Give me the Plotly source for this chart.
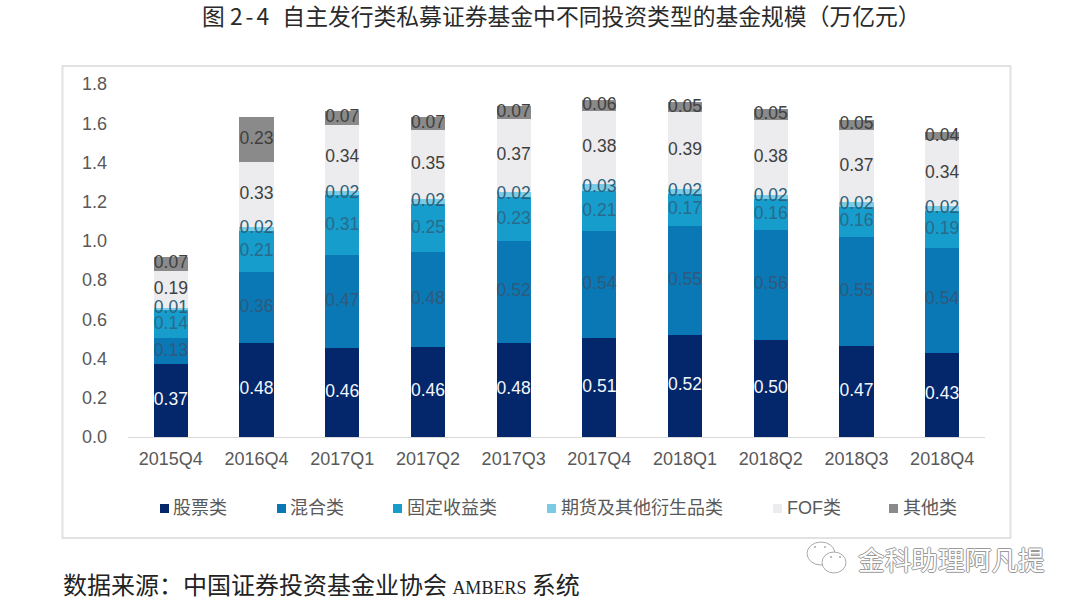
import plotly.graph_objects as go

categories = ["2015Q4","2016Q4","2017Q1","2017Q2","2017Q3","2017Q4","2018Q1","2018Q2","2018Q3","2018Q4"]
stock = [0.370,0.481,0.456,0.460,0.481,0.506,0.520,0.496,0.466,0.430]
mixed = [0.133,0.362,0.470,0.482,0.516,0.542,0.554,0.560,0.552,0.536]
fixed = [0.144,0.208,0.306,0.246,0.226,0.206,0.166,0.156,0.156,0.186]
deriv = [0.012,0.018,0.021,0.024,0.024,0.034,0.024,0.024,0.024,0.024]
fof = [0.187,0.334,0.340,0.354,0.374,0.376,0.391,0.380,0.366,0.336]
other = [0.074,0.229,0.068,0.068,0.069,0.056,0.054,0.054,0.054,0.044]
names = ["股票类","混合类","固定收益类","期货及其他衍生品类","FOF类","其他类"]
colors = ["#03276A","#0A78B5","#169DCB","#7CCBE4","#ECECEE","#8A8A8A"]
label_colors = ["#F4F6FA","#2F5A7C","#2B6A8C","#2E5F7A","#404040","#404040"]
series = [stock,mixed,fixed,deriv,fof,other]

SANS = "Liberation Sans, Noto Sans CJK SC, sans-serif"
CJK = "Noto Sans CJK SC, Liberation Sans, sans-serif"
W, H = 1080, 607
L, R, T, B = 128, 985, 84, 437

fig = go.Figure()
for name, vals, c in zip(names, series, colors):
    fig.add_bar(x=categories, y=vals, name=name, marker=dict(color=c, line_width=0), showlegend=False)
base = [0.0] * len(categories)
for name, vals, lc in zip(names, series, label_colors):
    mids = [b + v / 2 for b, v in zip(base, vals)]
    base = [b + v for b, v in zip(base, vals)]
    fig.add_scatter(x=categories, y=mids, mode="text", text=[f"{v:.2f}" for v in vals],
                    textposition="middle center", cliponaxis=False, showlegend=False,
                    textfont=dict(family=SANS, size=17.5, color=lc))

def px(x): return (x - L) / (R - L)
def py(y): return (B - y) / (B - T)

def rect(kind, x0, y0, x1, y1, **kw):
    return dict(type=kind, xref="paper", yref="paper", x0=px(x0), x1=px(x1), y0=py(y1), y1=py(y0), **kw)

def label(text, x, y, anchor, font):
    return dict(text=text, xref="paper", yref="paper", x=px(x), y=py(y), xanchor=anchor, yanchor="middle",
                showarrow=False, font=font)

shapes = [rect("rect", 62.5, 66, 1010.5, 538, line=dict(color="#E2E2E2", width=2), fillcolor="rgba(0,0,0,0)", layer="below")]
annotations = []
legend_key_x = [160, 277, 393, 547, 773, 889]
legend_text_x = [171, 288, 405, 559, 785, 901]
for kx, tx, name, c in zip(legend_key_x, legend_text_x, names, colors):
    shapes.append(rect("rect", kx, 504, kx + 9, 513, fillcolor=c, line_width=0))
    annotations.append(label(name, tx, 507.5, "left", dict(family=SANS, size=18, color="#595959")))
annotations.append(label("图 <span style='letter-spacing:3px'>2-4</span>  自主发行类私募证券基金中不同投资类型的基金规模（万亿元）",
                         200, 15, "left", dict(family=CJK, size=22.8, color="#2A2A2A")))
annotations.append(label("数据来源：中国证券投资基金业协会 <span style='font-family:Liberation Serif;font-size:18px'>AMBERS</span> 系统",
                         61, 583, "left", dict(family=CJK, size=24, color="#222222")))
annotations.append(label("金科助理阿凡提", 856, 558, "left",
                         dict(family=CJK, size=26.7, color="#FFFFFF",
                              shadow="1px 0 0 #999, -1px 0 0 #999, 0 1px 0 #999, 0 -1px 0 #999")))
bubble = dict(line=dict(color="#AAAAAA", width=1), fillcolor="#FFFFFF")
shapes.append(rect("circle", 807, 542, 835, 565, **bubble))
shapes.append(rect("circle", 822, 552, 846, 573, **bubble))
for ex, ey in [(815, 547), (825, 547), (831, 557), (840, 557)]:
    shapes.append(rect("circle", ex - 1, ey - 1, ex + 1, ey + 1, fillcolor="#AAAAAA", line_width=0))

fig.update_layout(
    width=W, height=H, barmode="stack", bargap=0.6, paper_bgcolor="#FFFFFF", plot_bgcolor="#FFFFFF",
    margin=dict(l=L, r=W - R, t=T, b=H - B, pad=0), autosize=False, showlegend=False,
    shapes=shapes, annotations=annotations,
    xaxis=dict(type="category", tickfont=dict(family=SANS, size=18, color="#595959"), showline=True,
               linecolor="#D9D9D9", linewidth=1, ticks="", showgrid=False, ticklabelstandoff=5),
    yaxis=dict(range=[0,1.8], tickvals=[0,0.2,0.4,0.6,0.8,1.0,1.2,1.4,1.6,1.8], tickformat=".1f",
               tickfont=dict(family=SANS, size=18, color="#595959"), showgrid=False, zeroline=False,
               showline=False, ticks="", ticklabelstandoff=20),
)
fig.write_html("out.html", config=dict(displayModeBar=False),
               post_script="document.body.style.margin='0';document.body.style.overflow='hidden';")
